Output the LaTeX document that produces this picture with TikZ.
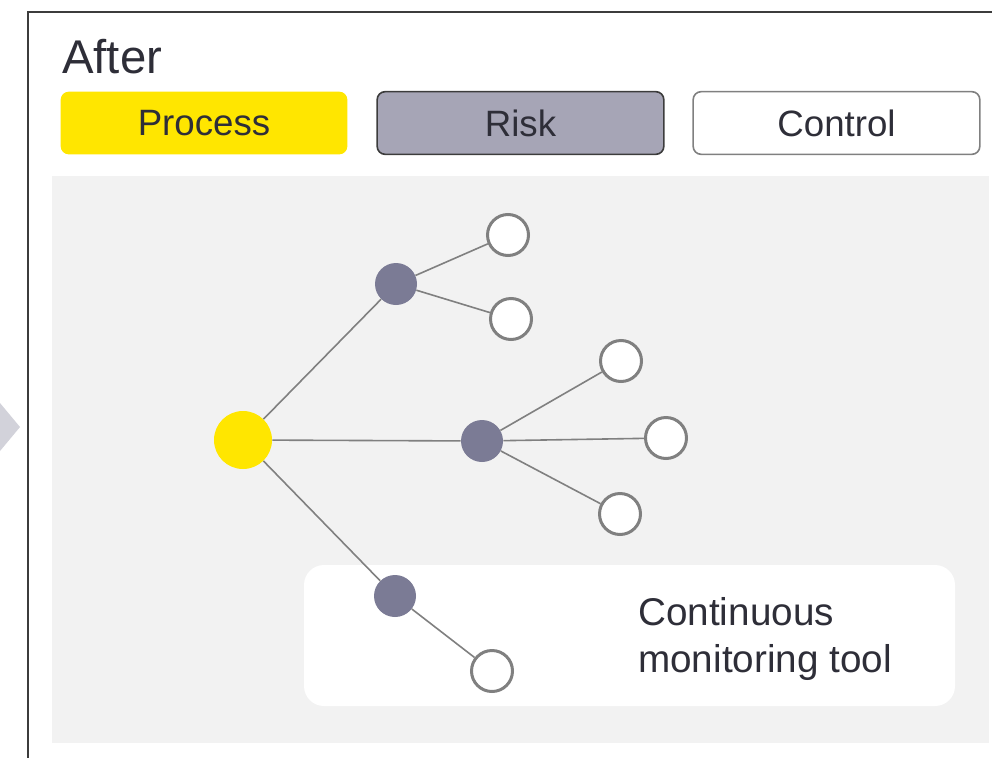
\documentclass[tikz,border=0pt]{standalone}
\usepackage{fontspec}
\setmainfont{Liberation Sans}
\usepackage{tikz}

\definecolor{eyyellow}{HTML}{FFE600}
\definecolor{riskgray}{HTML}{A6A5B6}
\definecolor{nodegray}{HTML}{7B7B95}
\definecolor{linegray}{HTML}{808080}
\definecolor{panelgray}{HTML}{F2F2F2}
\definecolor{textdark}{HTML}{2E2E38}
\definecolor{chevgray}{HTML}{D2D2DA}
\definecolor{framegray}{HTML}{3C3C3C}

\begin{document}
\begin{tikzpicture}[x=0.75pt,y=-0.75pt,
    tab/.style={rounded corners=6pt, minimum width=215pt, minimum height=47pt, inner sep=0pt,
      font=\fontsize{27.5}{33}\selectfont, text=textdark},
    root/.style={circle, fill=eyyellow, minimum size=43.5pt, inner sep=0pt},
    riskdot/.style={circle, fill=nodegray, minimum size=31.5pt, inner sep=0pt},
    ctrl/.style={circle, draw=linegray, line width=2.25pt, fill=white, minimum size=30.75pt, inner sep=0pt},
    link/.style={draw=linegray, line width=1.2pt}]
  \useasboundingbox (0,0) rectangle (992,757);
  \clip (0,0) rectangle (992,757);

  % frame and arrow from the left
  \fill[chevgray] (-20,379) -- (20,427) -- (-20,475) -- cycle;
  \draw[framegray, line width=1.5pt] (28,800) -- (28,12) -- (1000,12);

  \node[anchor=base west, inner sep=0pt, text=textdark, font=\fontsize{35.5}{42}\selectfont] (after) at (62,73) {After};

  % legend
  \node[tab, fill=eyyellow] (process) at (204,123) {Process};
  \node[tab, fill=riskgray, draw=framegray, line width=1.2pt] (risk) at (520.5,123) {Risk};
  \node[tab, fill=white, draw=linegray, line width=1.2pt] (control) at (836.5,123) {Control};

  % panel
  \fill[panelgray] (52,176) rectangle (989,743);
  \fill[white, rounded corners=15pt] (304,565) rectangle (955,706);
  \node[anchor=north west, inner sep=0pt, align=left, text=textdark, font=\fontsize{29}{35.25}\selectfont] (tool) at (638,597) {Continuous\\monitoring tool};

  % tree
  \node[root] (proc) at (243,440) {};
  \node[riskdot] (riskA) at (396,284) {};
  \node[riskdot] (riskB) at (482,441) {};
  \node[riskdot] (riskC) at (395,596) {};

  \node[ctrl] (ctrlA1) at (508,235) {};
  \node[ctrl] (ctrlA2) at (511,319) {};
  \node[ctrl] (ctrlB1) at (621,361) {};
  \node[ctrl] (ctrlB2) at (666,438) {};
  \node[ctrl] (ctrlB3) at (620,514) {};
  \node[ctrl] (ctrlC1) at (492,671) {};

  \draw[link] (proc) -- (riskA);
  \draw[link] (proc) -- (riskB);
  \draw[link] (proc) -- (riskC);
  \draw[link] (riskA) -- (ctrlA1);
  \draw[link] (riskA) -- (ctrlA2);
  \draw[link] (riskB) -- (ctrlB1);
  \draw[link] (riskB) -- (ctrlB2);
  \draw[link] (riskB) -- (ctrlB3);
  \draw[link] (riskC) -- (ctrlC1);
\end{tikzpicture}
\end{document}
